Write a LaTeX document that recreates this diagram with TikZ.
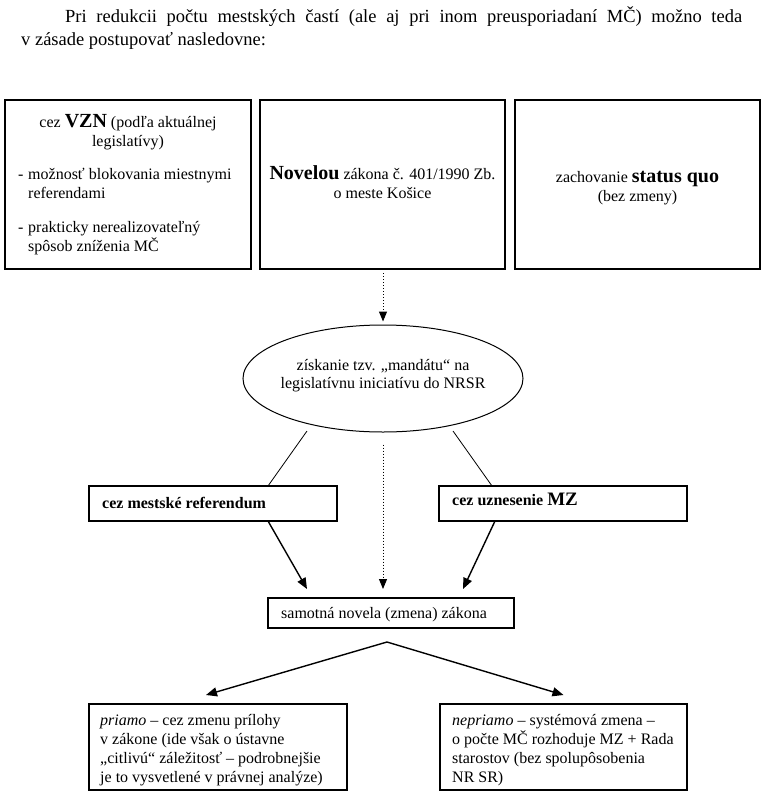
\documentclass[tikz,border=0pt]{standalone}
\usepackage{fontspec}
\setmainfont{Liberation Serif}
\usetikzlibrary{arrows.meta,shapes.geometric,calc}
\newcommand{\bigb}[1]{{\fontsize{20}{20}\selectfont\bfseries #1}}
\begin{document}
\begin{tikzpicture}[x=1pt,y=-1pt,
  box/.style={draw, line width=1.1pt, inner sep=0pt, outer sep=0pt},
  txt/.style={anchor=base, inner sep=0pt, font=\fontsize{16}{19}\selectfont},
  txtl/.style={anchor=base west, inner sep=0pt, font=\fontsize{16}{19}\selectfont},
  conn/.style={line width=0.8pt},
  arr/.style={line width=1.4pt, -{Triangle[length=11pt,width=9pt]}},
  dots/.style={dotted, line width=1pt, -{Triangle[length=10pt,width=8pt]}}]
\useasboundingbox (0,0) rectangle (769,798);

% intro paragraph
\node[anchor=base west, inner sep=0pt, font=\fontsize{18.5}{23}\selectfont] (intro) at (21,22)
  {\parbox[t]{721pt}{\hspace*{44pt}Pri redukcii počtu mestských častí (ale aj pri inom preusporiadaní MČ) možno teda\linebreak v zásade postupovať nasledovne:}};

% top boxes
\node[box, minimum width=246pt, minimum height=169pt] (vzn) at (128,184.5) {};
\node[box, minimum width=245pt, minimum height=169pt] (nov) at (382.5,184.5) {};
\node[box, minimum width=245pt, minimum height=169pt] (sq) at (637.5,184.5) {};

\node[txt] (vzn1) at (128,127) {cez \bigb{VZN} (podľa aktuálnej};
\node[txt] (vzn2) at (128,146) {legislatívy)};
\node[txtl] (d1) at (18,179) {-};
\node[txtl] (t1) at (28,179) {možnosť blokovania miestnymi};
\node[txtl] (t2) at (28,198) {referendami};
\node[txtl] (d2) at (18,232) {-};
\node[txtl] (t3) at (28,232) {prakticky nerealizovateľný};
\node[txtl] (t4) at (28,251) {spôsob zníženia MČ};

\node[txt] (nov1) at (382.5,179) {\bigb{Novelou} zákona č. 401/1990 Zb.};
\node[txt] (nov2) at (382.5,198) {o meste Košice};

\node[txt] (sq1) at (637.5,182) {zachovanie \bigb{status quo}};
\node[txt] (sq2) at (637.5,201) {(bez zmeny)};

% ellipse
\node[draw, ellipse, line width=1pt, minimum width=280pt, minimum height=107pt, inner sep=0pt] (ell) at (383,378.5) {};
\node[txt] (ell1) at (383,370) {získanie tzv. „mandátu“ na};
\node[txt] (ell2) at (383,388) {legislatívnu iniciatívu do NRSR};

\draw[dots, shorten <=4pt, shorten >=3pt] (nov.south -| ell.north) -- (ell.north);

% middle boxes
\node[box, minimum width=248pt, minimum height=35pt] (ref) at (213,503.5) {};
\node[box, minimum width=248pt, minimum height=35pt] (mz) at (563,503.5) {};
\node[txtl] (reft) at (102,508) {\bfseries cez mestské referendum};
\node[txtl] (mzt) at (452,505) {\bfseries cez uznesenie {\fontsize{19}{19}\selectfont MZ}};

\draw[conn] ($(ref.north west)+(218,-55)$) -- ($(ref.north west)+(179,0)$);
\draw[conn] ($(mz.north west)+(14,-55)$) -- ($(mz.north west)+(53,0)$);

% samotna novela
\node[box, minimum width=246pt, minimum height=30pt] (sam) at (391,613) {};
\node[txtl] (samt) at (281,618) {samotná novela (zmena) zákona};

\draw[arr] ($(ref.south west)+(179,0)$) -- ($(sam.north west)+(39,-9)$);
\draw[arr] ($(mz.south west)+(56,0)$) -- ($(sam.north west)+(195,-9)$);
\draw[dots, shorten <=12pt, shorten >=9pt] (ell.south) -- (ell.south |- sam.north);

% bottom boxes
\node[box, minimum width=258pt, minimum height=86pt] (prim) at (218,747) {};
\node[box, minimum width=247pt, minimum height=86pt] (nep) at (563.5,747) {};

\coordinate (apex) at ($(sam.south)+(-4,14)$);
\draw[arr] (apex) -- ($(prim.north)+(-12,-9)$);
\draw[arr] (apex) -- ($(nep.north)+(0,-9)$);

\node[txtl] (p1) at (100,725) {\textit{priamo} – cez zmenu prílohy};
\node[txtl] (p2) at (100,744) {v zákone (ide však o ústavne};
\node[txtl] (p3) at (100,763) {„citlivú“ záležitosť – podrobnejšie};
\node[txtl] (p4) at (100,782) {je to vysvetlené v právnej analýze)};

\node[txtl] (n1) at (452,725) {\textit{nepriamo} – systémová zmena –};
\node[txtl] (n2) at (452,744) {o počte MČ rozhoduje MZ + Rada};
\node[txtl] (n3) at (452,763) {starostov (bez spolupôsobenia};
\node[txtl] (n4) at (452,782) {NR SR)};
\end{tikzpicture}
\end{document}
